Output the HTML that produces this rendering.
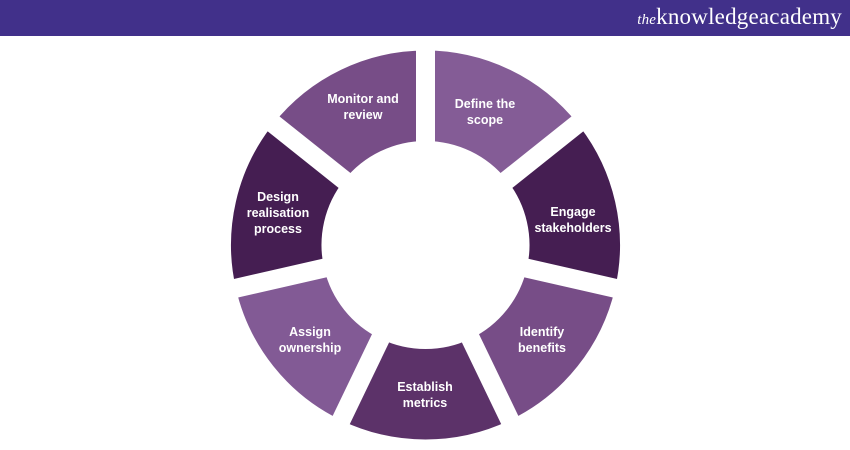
<!DOCTYPE html>
<html><head><meta charset="utf-8"><style>
html,body{margin:0;padding:0;width:850px;height:450px;background:#fff;overflow:hidden}
.bar{position:absolute;left:0;top:0;width:850px;height:36px;background:#41308a}
.logo{position:absolute;right:8px;top:4px;color:#fff;font-family:"Liberation Serif",serif;font-size:23px;letter-spacing:0.2px}
.logo i{font-size:15px}
svg{position:absolute;left:0;top:0}
text{font-family:"Liberation Sans",sans-serif;font-weight:bold;font-size:12.5px;fill:#fff;text-anchor:middle}
</style></head><body>
<div class="bar"></div>
<div class="logo"><i>the</i>knowledgeacademy</div>
<svg width="850" height="450" viewBox="0 0 850 450">
<g fill="none" stroke-width="90.5" stroke-dasharray="133.97 803.83">
<circle cx="425.5" cy="245" r="149.25" stroke="#845c96" transform="rotate(-90 425.5 245)"/>
<circle cx="425.5" cy="245" r="149.25" stroke="#451e52" transform="rotate(-38.57 425.5 245)"/>
<circle cx="425.5" cy="245" r="149.25" stroke="#774d87" transform="rotate(12.86 425.5 245)"/>
<circle cx="425.5" cy="245" r="149.25" stroke="#5c3269" transform="rotate(64.29 425.5 245)"/>
<circle cx="425.5" cy="245" r="149.25" stroke="#825a95" transform="rotate(115.71 425.5 245)"/>
<circle cx="425.5" cy="245" r="149.25" stroke="#451e52" transform="rotate(167.14 425.5 245)"/>
<circle cx="425.5" cy="245" r="149.25" stroke="#774d87" transform="rotate(218.57 425.5 245)"/>
</g>
<g stroke="#fff" stroke-width="19">
<line x1="425.5" y1="245" x2="425.5" y2="45"/>
<line x1="425.5" y1="245" x2="581.9" y2="120.3"/>
<line x1="425.5" y1="245" x2="620.5" y2="289.5"/>
<line x1="425.5" y1="245" x2="512.3" y2="425.2"/>
<line x1="425.5" y1="245" x2="338.7" y2="425.2"/>
<line x1="425.5" y1="245" x2="230.5" y2="289.5"/>
<line x1="425.5" y1="245" x2="269.1" y2="120.3"/>
</g>
<text x="363" y="103">Monitor and</text><text x="363" y="119">review</text>
<text x="485" y="108">Define the</text><text x="485" y="124">scope</text>
<text x="573" y="216">Engage</text><text x="573" y="232">stakeholders</text>
<text x="542" y="336">Identify</text><text x="542" y="352">benefits</text>
<text x="425" y="391">Establish</text><text x="425" y="407">metrics</text>
<text x="310" y="336">Assign</text><text x="310" y="352">ownership</text>
<text x="278" y="201">Design</text><text x="278" y="217">realisation</text><text x="278" y="233">process</text>
</svg>
</body></html>
